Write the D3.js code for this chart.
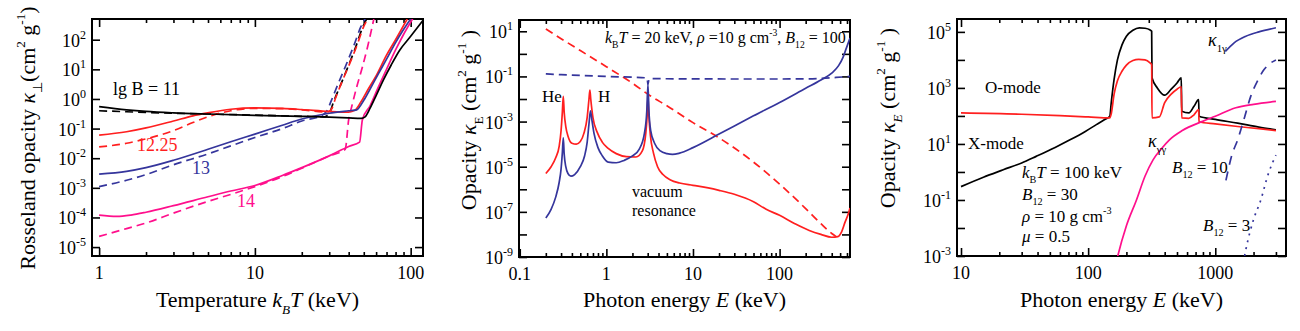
<!DOCTYPE html>
<html>
<head>
<meta charset="utf-8">
<script src="https://cdn.jsdelivr.net/npm/d3@7"></script>
<style>
  body { margin: 0; background: #fff; }
  svg { display: block; }
</style>
</head>
<body>
<svg id="chart" width="1300" height="331" font-family="Liberation Serif, Times New Roman, serif"></svg>
<script>
// ---------- panel 1 : Rosseland opacity vs temperature ----------
var p1XTicks = [1, 10, 100];
var p1XLabels = ["1", "10", "100"];
var p1YExp = [-5, -4, -3, -2, -1, 0, 1, 2];
var p1YLabelExp = [-5, -4, -3, -2, -1, 0, 1, 2];

var p1Black = [[1,0.55],[1.5,0.43],[2,0.38],[3,0.34],[5,0.31],[10,0.28],[20,0.26],[30,0.245],[40,0.23],[48,0.22],[51,0.25],[55,0.5],[60,1.3],[67,4.5],[75,14],[85,44],[100,130],[120,450]];
var p1BlackDash = [[1,0.4],[1.5,0.37],[2,0.35],[3,0.33],[5,0.31],[10,0.285],[20,0.26],[28,0.25],[30,0.32],[32,0.8],[35,2.5],[39,10],[44,50],[49,250],[53,600]];
var p1Red = [[1,0.06],[1.5,0.078],[2,0.105],[3,0.18],[4,0.27],[5,0.34],[7,0.45],[10,0.5],[15,0.48],[20,0.44],[30,0.38],[40,0.36],[44,0.42],[48,0.8],[53,2],[60,6],[70,30],[80,100],[95,500]];
var p1RedDash = [[1,0.024],[1.5,0.032],[2,0.045],[2.5,0.062],[3,0.085],[4,0.16],[5,0.25],[7,0.4],[10,0.48],[15,0.47],[20,0.43],[29,0.36],[31,0.45],[33,1.1],[36,3.5],[40,13],[45,60],[50,280],[54,600]];
var p1Blue = [[1,0.0029],[1.5,0.0036],[2,0.0048],[3,0.0085],[5,0.02],[7,0.036],[10,0.065],[15,0.13],[20,0.21],[30,0.33],[40,0.4],[45,0.43],[50,0.9],[55,2.2],[62,7],[70,22],[80,80],[90,220],[100,500],[105,700]];
var p1BlueDash = [[1,0.0011],[1.5,0.0018],[2,0.0028],[3,0.006],[5,0.014],[7,0.026],[10,0.05],[15,0.1],[20,0.18],[27,0.28],[29,0.4],[31,0.9],[34,3],[38,12],[43,60],[48,280],[52,600]];
var p1Pink = [[1,0.00012],[1.3,0.000108],[1.6,0.00012],[2,0.00015],[3,0.00025],[5,0.0005],[7,0.00078],[10,0.0012],[15,0.0026],[20,0.0048],[30,0.012],[40,0.025],[47,0.035],[49,0.2],[55,0.6],[62,2.5],[70,10],[80,45],[90,150],[105,600]];
var p1PinkDash = [[1,0.000023],[1.5,0.000042],[2,0.000065],[3,0.00014],[5,0.00035],[7,0.0006],[10,0.0011],[15,0.0024],[20,0.0046],[30,0.012],[38,0.02],[40,0.2],[42,0.6],[45,2.5],[49,12],[53,60],[58,500]];

// ---------- panel 2 : spectral opacity, kT = 20 keV ----------
var p2XTicks = [0.1, 1, 10, 100];
var p2XLabels = ["0.1", "1", "10", "100"];
var p2YExp = [-9, -8, -7, -6, -5, -4, -3, -2, -1, 0, 1];
var p2YLabelExp = [-9, -7, -5, -3, -1, 1];

var p2Red = [[0.2,5e-6],[0.23,1e-5],[0.26,2.5e-5],[0.285,8e-5],[0.3,4e-4],[0.31,2.5e-3],[0.318,1.3e-2],[0.326,2.5e-3],[0.34,6e-4],[0.36,2.3e-4],[0.4,1.1e-4],[0.45,1e-4],[0.5,1.3e-4],[0.55,3e-4],[0.6,1.5e-3],[0.63,1e-2],[0.645,2.5e-2],[0.66,1e-2],[0.7,1.5e-3],[0.78,3.5e-4],[0.9,1.2e-4],[1.05,6.5e-5],[1.3,3.8e-5],[1.7,2.8e-5],[2.2,2.7e-5],[2.6,5e-5],[2.85,3e-4],[2.96,2e-3],[3.02,1.3e-2],[3.09,2e-3],[3.22,2.5e-4],[3.5,4e-5],[3.9,1e-5],[4.5,4.5e-6],[5.5,2.6e-6],[7,1.9e-6],[10,1.5e-6],[15,1.15e-6],[20,9e-7],[30,6e-7],[50,2.8e-7],[70,1.3e-7],[100,7e-8],[150,3e-8],[220,1.5e-8],[300,1e-8],[400,7.5e-9],[470,8e-9],[520,1.3e-8],[570,3.5e-8],[620,8e-8],[650,1.5e-7]];
var p2Blue = [[0.2,5.4e-8],[0.23,1.3e-7],[0.26,4.5e-7],[0.285,2e-6],[0.3,8e-6],[0.31,4e-5],[0.318,1.9e-4],[0.326,3.5e-5],[0.34,1e-5],[0.36,5e-6],[0.39,3.8e-6],[0.43,4.5e-6],[0.5,1e-5],[0.56,3e-5],[0.6,1.2e-4],[0.63,8e-4],[0.655,3e-3],[0.68,1.2e-3],[0.72,3e-4],[0.8,7e-5],[0.9,3e-5],[1.05,1.6e-5],[1.3,1.5e-5],[1.6,1.9e-5],[2,3e-5],[2.4,6e-5],[2.75,3e-4],[2.93,3e-3],[3.02,4.5e-2],[3.1,3e-3],[3.25,4e-4],[3.6,1.1e-4],[4.2,5e-5],[5,3.8e-5],[5.8,3.5e-5],[7,4e-5],[10,7e-5],[20,2.8e-4],[50,1.8e-3],[100,7e-3],[200,3e-2],[300,7e-2],[400,0.14],[480,0.3],[540,0.7],[590,1.8],[650,5]];
var p2RedDash = [[0.2,12.7],[0.3,4.7],[0.5,1.4],[1,0.27],[2,0.05],[3.2,0.014],[5,0.005],[10,9e-4],[20,1.9e-4],[50,1.6e-5],[100,1.7e-6],[200,1.4e-7],[300,3e-8],[400,1.1e-8],[450,8e-9]];
var p2BlueDash = [[0.2,0.13],[0.3,0.12],[0.5,0.11],[1,0.1],[2,0.092],[2.95,0.086],[3.02,0.045],[3.12,0.08],[5,0.079],[10,0.078],[30,0.077],[100,0.077],[200,0.078],[300,0.082],[450,0.09],[650,0.1]];

// ---------- panel 3 : spectral opacity, kT = 100 keV ----------
var p3XTicks = [10, 100, 1000];
var p3XLabels = ["10", "100", "1000"];
var p3YExp = [-3, -2, -1, 0, 1, 2, 3, 4, 5];
var p3YLabelExp = [-3, -1, 1, 3, 5];

var p3OMode = [[10,0.3],[15,0.65],[21.5,1.2],[30,2.1],[39,3.6],[55,7.5],[72,14],[95,28],[116,49],[135,75],[148,98],[152,300],[160,2000],[170,1e4],[185,3.5e4],[200,7e4],[225,1.15e5],[253,1.4e5],[280,1.35e5],[305,1.2e5],[316,1.05e5],[318,2300],[350,1000],[400,550],[450,900],[500,1500],[540,2300],[545,146],[620,128],[680,220],[740,380],[745,97],[1000,75],[1500,55],[2200,40],[3000,32]];
var p3XMode = [[10,128],[30,115],[60,102],[100,92],[148,85],[152,120],[160,600],[170,1800],[185,4000],[200,6500],[225,9500],[250,1.05e4],[280,1e4],[305,8000],[316,6700],[318,85],[363,92],[400,300],[450,600],[500,900],[540,1100],[545,85],[620,82],[680,110],[740,167],[745,62],[1000,52],[1500,42],[2200,35],[3000,30]];
var p3Pair = [[165,5e-4],[171,1e-3],[200,0.012],[240,0.1],[280,0.7],[324,2.7],[380,7],[436,14],[550,30],[795,64],[1000,97],[1450,195],[2000,260],[3000,330]];
var p3OnePhoton = [[1200,2e4],[1400,4e4],[1740,7e4],[2200,1e5],[3000,1.4e5]];
var p3B10 = [[1213,0.5],[1350,4],[1500,14],[1700,90],[1900,500],[2150,1800],[2420,4500],[2700,7500],[3000,1e4]];
var p3B3 = [[1700,1e-3],[1740,1.7e-3],[2000,0.02],[2280,0.1],[2600,0.8],[3000,4]];

var RED = "#ff1f1f", BLUE = "#35359c", PINK = "#ff0f8c", BLACK = "#000";

var svg = d3.select("#chart");

// text with sub/superscripts; parts = [{t, i, sub, sup}]
function rich(sel, parts, size) {
    var off = 0;
    parts.forEach(function (p) {
        var target = p.sub ? size * 0.32 : p.sup ? -size * 0.45 : 0;
        var ts = sel.append("tspan").text(p.t).attr("dy", target - off);
        off = target;
        if (p.sub || p.sup) ts.attr("font-size", size * 0.6);
        if (p.i) ts.attr("font-style", "italic");
    });
    return sel;
}

function panel(o) {
    var x = d3.scaleLog().domain(o.xDomain).range([o.left, o.right]);
    var y = d3.scaleLog().domain(o.yDomain).range([o.bottom, o.top]);
    var g = svg.append("g");

    svg.append("clipPath").attr("id", "clip" + o.id)
        .append("rect")
        .attr("x", o.left).attr("y", o.top)
        .attr("width", o.right - o.left).attr("height", o.bottom - o.top);

    // minor x ticks 2..9 in every decade
    var minors = [];
    var e0 = Math.floor(Math.log10(o.xDomain[0])), e1 = Math.floor(Math.log10(o.xDomain[1]));
    for (var e = e0; e <= e1; e++) {
        for (var m = 2; m <= 9; m++) {
            var v = m * Math.pow(10, e);
            if (v > o.xDomain[0] && v < o.xDomain[1]) minors.push(v);
        }
    }
    var yVals = o.yExp.map(function (d) { return Math.pow(10, d); });

    function ax(axis, tr) {
        var a = g.append("g").attr("transform", tr).call(axis);
        a.attr("font-family", null);
        a.select(".domain").remove();
        a.selectAll("line").attr("stroke", "#000").attr("stroke-width", 1.6);
    }
    ax(d3.axisBottom(x).tickValues(o.xTicks).tickSize(-8).tickFormat(""), "translate(0," + o.bottom + ")");
    ax(d3.axisBottom(x).tickValues(minors).tickSize(-4).tickFormat(""), "translate(0," + o.bottom + ")");
    ax(d3.axisTop(x).tickValues(o.xTicks).tickSize(-8).tickFormat(""), "translate(0," + o.top + ")");
    ax(d3.axisTop(x).tickValues(minors).tickSize(-4).tickFormat(""), "translate(0," + o.top + ")");
    ax(d3.axisLeft(y).tickValues(yVals).tickSize(-8).tickFormat(""), "translate(" + o.left + ",0)");
    ax(d3.axisRight(y).tickValues(yVals).tickSize(-8).tickFormat(""), "translate(" + o.right + ",0)");

    g.append("rect")
        .attr("x", o.left).attr("y", o.top)
        .attr("width", o.right - o.left).attr("height", o.bottom - o.top)
        .attr("fill", "none").attr("stroke", "#000").attr("stroke-width", 2);

    // x tick labels
    g.selectAll(".xl").data(o.xTicks).enter().append("text")
        .attr("x", function (d) { return x(d); })
        .attr("y", o.bottom + 23)
        .attr("text-anchor", "middle")
        .attr("font-size", 18)
        .text(function (d, i) { return o.xLabels[i]; });

    // y tick labels 10^n
    o.yLabelExp.forEach(function (n) {
        var t = g.append("text")
            .attr("x", o.left - 6)
            .attr("y", y(Math.pow(10, n)) + 7)
            .attr("text-anchor", "end")
            .attr("font-size", 18);
        t.append("tspan").text("10");
        t.append("tspan").text(String(n)).attr("dy", -8).attr("font-size", 12);
    });

    var line = d3.line()
        .x(function (d) { return x(d[0]); })
        .y(function (d) { return y(d[1]); })
        .curve(d3.curveMonotoneX);

    o.series.forEach(function (s) {
        g.append("path").datum(s.data)
            .attr("clip-path", "url(#clip" + o.id + ")")
            .attr("d", line)
            .attr("fill", "none")
            .attr("stroke", s.color)
            .attr("stroke-width", 1.7)
            .attr("stroke-dasharray", s.dash || null);
    });

    // axis titles
    rich(g.append("text")
        .attr("x", (o.left + o.right) / 2).attr("y", 307)
        .attr("text-anchor", "middle").attr("font-size", 22), o.xTitle, 22);
    rich(g.append("text")
        .attr("transform", "translate(" + o.yTitleX + "," + o.yTitleY + ") rotate(-90)")
        .attr("text-anchor", "middle").attr("font-size", 22), o.yTitle, 22);

    return { g: g, x: x, y: y };
}

function note(g, x, y, size, color, parts) {
    return rich(g.append("text").attr("x", x).attr("y", y)
        .attr("font-size", size).attr("fill", color), parts, size);
}

var DASH = "8,5";

// ---- panel 1
var P1 = panel({
    id: 1, left: 92, right: 423, top: 19, bottom: 256,
    xDomain: [0.9, 120], yDomain: [5e-6, 500],
    xTicks: p1XTicks, xLabels: p1XLabels, yExp: p1YExp, yLabelExp: p1YLabelExp,
    xTitle: [{t: "Temperature "}, {t: "k", i: true}, {t: "B", sub: true, i: true}, {t: "T", i: true}, {t: " (keV)"}],
    yTitle: [{t: "Rosseland opacity "}, {t: "κ", i: true}, {t: "⊥", sub: true}, {t: "(cm"}, {t: "2", sup: true}, {t: " g"}, {t: "-1", sup: true}, {t: ")"}],
    yTitleX: 35, yTitleY: 138,
    series: [
        {data: p1BlackDash, color: BLACK, dash: DASH},
        {data: p1RedDash, color: RED, dash: DASH},
        {data: p1BlueDash, color: BLUE, dash: DASH},
        {data: p1PinkDash, color: PINK, dash: DASH},
        {data: p1Red, color: RED},
        {data: p1Blue, color: BLUE},
        {data: p1Pink, color: PINK},
        {data: p1Black, color: BLACK}
    ]
});
note(P1.g, 113, 95, 18, BLACK, [{t: "lg B = 11"}]);
note(P1.g, 137, 151, 18, RED, [{t: "12.25"}]);
note(P1.g, 192, 174, 18, BLUE, [{t: "13"}]);
note(P1.g, 237, 207, 18, PINK, [{t: "14"}]);

// ---- panel 2
var P2 = panel({
    id: 2, left: 519, right: 850, top: 20, bottom: 257,
    xDomain: [0.098, 650], yDomain: [1e-9, Math.pow(10, 1.5)],
    xTicks: p2XTicks, xLabels: p2XLabels, yExp: p2YExp, yLabelExp: p2YLabelExp,
    xTitle: [{t: "Photon energy "}, {t: "E", i: true}, {t: " (keV)"}],
    yTitle: [{t: "Opacity "}, {t: "κ", i: true}, {t: "E", sub: true}, {t: " (cm"}, {t: "2", sup: true}, {t: " g"}, {t: "-1", sup: true}, {t: " )"}],
    yTitleX: 476, yTitleY: 120,
    series: [
        {data: p2RedDash, color: RED, dash: DASH},
        {data: p2BlueDash, color: BLUE, dash: DASH},
        {data: p2Red, color: RED},
        {data: p2Blue, color: BLUE}
    ]
});
note(P2.g, 605, 43, 16, BLACK, [{t: "k", i: true}, {t: "B", sub: true}, {t: "T", i: true}, {t: " = 20 keV, "}, {t: "ρ", i: true}, {t: " =10 g cm"}, {t: "-3", sup: true}, {t: ", "}, {t: "B", i: true}, {t: "12", sub: true}, {t: " = 100"}]);
note(P2.g, 542, 102, 17, BLACK, [{t: "He"}]);
note(P2.g, 598, 102, 17, BLACK, [{t: "H"}]);
note(P2.g, 632, 197, 16, BLACK, [{t: "vacuum"}]);
note(P2.g, 632, 216, 16, BLACK, [{t: "resonance"}]);

// ---- panel 3
var P3 = panel({
    id: 3, left: 957, right: 1286, top: 19, bottom: 256,
    xDomain: [9.3, 3600], yDomain: [1e-3, Math.pow(10, 5.46)],
    xTicks: p3XTicks, xLabels: p3XLabels, yExp: p3YExp, yLabelExp: p3YLabelExp,
    xTitle: [{t: "Photon energy "}, {t: "E", i: true}, {t: " (keV)"}],
    yTitle: [{t: "Opacity "}, {t: "κ", i: true}, {t: "E", sub: true, i: true}, {t: "  (cm"}, {t: "2", sup: true}, {t: " g"}, {t: "-1", sup: true}, {t: " )"}],
    yTitleX: 895, yTitleY: 118,
    series: [
        {data: p3OMode, color: BLACK},
        {data: p3XMode, color: RED},
        {data: p3Pair, color: PINK},
        {data: p3OnePhoton, color: BLUE},
        {data: p3B10, color: BLUE, dash: "9,7"},
        {data: p3B3, color: BLUE, dash: "2,5"}
    ]
});
note(P3.g, 985, 93, 17, BLACK, [{t: "O-mode"}]);
note(P3.g, 968, 149, 17, BLACK, [{t: "X-mode"}]);
note(P3.g, 1022, 178, 17, BLACK, [{t: "k", i: true}, {t: "B", sub: true}, {t: "T", i: true}, {t: " = 100 keV"}]);
note(P3.g, 1022, 200, 17, BLACK, [{t: "B", i: true}, {t: "12", sub: true}, {t: " = 30"}]);
note(P3.g, 1022, 222, 17, BLACK, [{t: "ρ", i: true}, {t: " = 10 g cm"}, {t: "-3", sup: true}]);
note(P3.g, 1022, 242, 17, BLACK, [{t: "μ", i: true}, {t: " = 0.5"}]);
note(P3.g, 1148, 147, 18, BLACK, [{t: "κ", i: true}, {t: "γγ", sub: true}]);
note(P3.g, 1172, 173, 17, BLACK, [{t: "B", i: true}, {t: "12", sub: true}, {t: " = 10"}]);
note(P3.g, 1203, 231, 17, BLACK, [{t: "B", i: true}, {t: "12", sub: true}, {t: " = 3"}]);
note(P3.g, 1208, 46, 18, BLACK, [{t: "κ", i: true}, {t: "1γ", sub: true}]);
</script>
</body>
</html>
